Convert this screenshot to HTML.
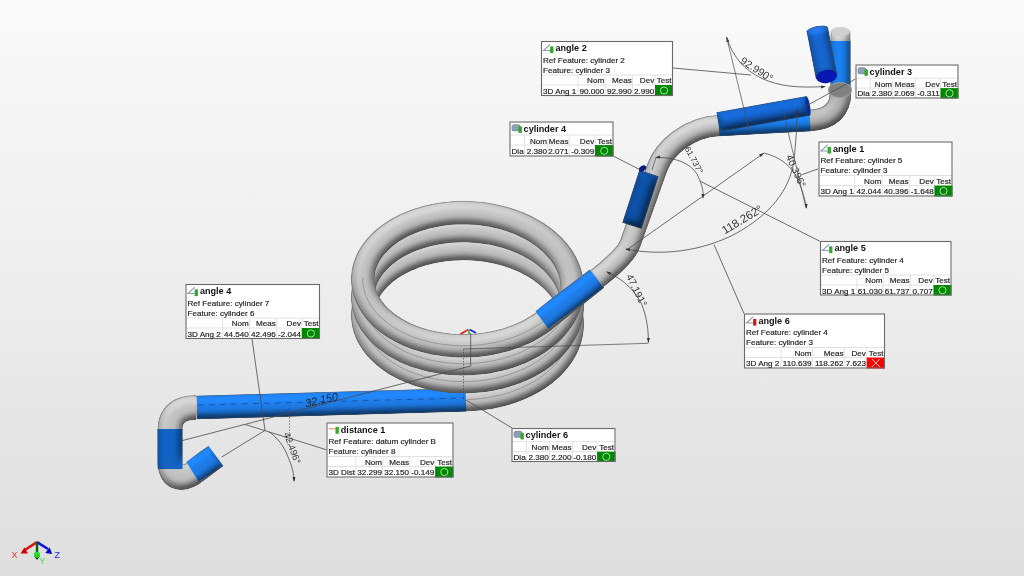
<!DOCTYPE html>
<html><head><meta charset="utf-8">
<style>
html,body{margin:0;padding:0;}
body{width:1024px;height:576px;overflow:hidden;position:relative;
background:linear-gradient(to bottom,#fafafa 0%,#f0f0f0 40%,#dedede 100%);
font-family:"Liberation Sans",sans-serif;}
svg{position:absolute;left:0;top:0;will-change:transform;}
</style></head><body>
<svg width="1024" height="576" viewBox="0 0 1024 576"><defs><filter id="lt" filterUnits="userSpaceOnUse" x="0" y="0" width="1024" height="576" color-interpolation-filters="sRGB">
<feGaussianBlur in="SourceAlpha" stdDeviation="4" result="b"/>
<feDiffuseLighting in="b" surfaceScale="6" diffuseConstant="1" lighting-color="#fff" result="d"><feDistantLight azimuth="-110" elevation="60"/></feDiffuseLighting>
<feComposite in="d" in2="SourceGraphic" operator="arithmetic" k1="0.85" k2="0" k3="0.26" k4="0" result="m"/>
<feMorphology in="SourceAlpha" operator="erode" radius="0.9" result="er"/>
<feComposite in="SourceAlpha" in2="er" operator="out" result="edge"/>
<feFlood flood-color="#505050" flood-opacity="0.45" result="fc"/>
<feComposite in="fc" in2="edge" operator="in" result="edgec"/>
<feMerge result="mm"><feMergeNode in="m"/><feMergeNode in="edgec"/></feMerge>
<feComposite in="mm" in2="SourceAlpha" operator="in"/>
</filter><mask id="mk1" maskUnits="userSpaceOnUse" x="0" y="0" width="1024" height="576"><path d="M362.8 316.9 L362.8 313.3 L363.1 309.7 L363.6 306.2 L364.5 302.7 L365.6 299.2 L367.1 295.7 L368.8 292.4 L370.7 289.0 L373.0 285.8 L375.4 282.6 L378.2 279.6 L381.2 276.6 L384.4 273.7 L387.8 271.0 L391.5 268.4 L395.4 265.9 L399.5 263.6 L403.7 261.4 L408.2 259.3 L412.8 257.5 L417.5 255.8 L422.4 254.2 L427.4 252.9 L432.5 251.7 L437.7 250.7 L443.0 249.9 L448.4 249.2 L453.8 248.8 L459.3 248.6 L464.8 248.5 L470.2 248.7 L475.7 249.0 L481.2 249.5 L486.6 250.3 L492.0 251.2 L497.3 252.3 L502.5 253.6 L507.6 255.1 L512.6 256.8 L517.5 258.6 L522.2 260.6 L526.8 262.8 L531.3 265.1 L535.5 267.6 L539.6 270.2 L543.5 273.0 L547.2 275.9 L550.6 279.0 L553.8 282.1 L556.8 285.4 L559.6 288.8 L562.0 292.2 L564.3 295.8 L566.2 299.4 L567.9 303.1 L569.4 306.8 L570.5 310.6 L571.4 314.4 L571.9 318.3 L572.2 322.1 L572.2 326.0" fill="none" stroke="#fff" stroke-width="25.5" stroke-linecap="butt" stroke-linejoin="round"/></mask><mask id="mk2" maskUnits="userSpaceOnUse" x="0" y="0" width="1024" height="576"><path d="M362.8 298.9 L362.8 295.3 L363.1 291.8 L363.6 288.2 L364.5 284.7 L365.6 281.2 L367.1 277.8 L368.8 274.4 L370.7 271.1 L373.0 267.8 L375.4 264.7 L378.2 261.6 L381.2 258.6 L384.4 255.8 L387.8 253.0 L391.5 250.4 L395.4 247.9 L399.5 245.6 L403.7 243.4 L408.2 241.4 L412.8 239.5 L417.5 237.8 L422.4 236.3 L427.4 234.9 L432.5 233.7 L437.7 232.7 L443.0 231.9 L448.4 231.3 L453.8 230.9 L459.3 230.6 L464.8 230.6 L470.2 230.7 L475.7 231.1 L481.2 231.6 L486.6 232.3 L492.0 233.3 L497.3 234.4 L502.5 235.7 L507.6 237.1 L512.6 238.8 L517.5 240.6 L522.2 242.7 L526.8 244.8 L531.3 247.2 L535.5 249.6 L539.6 252.3 L543.5 255.1 L547.2 258.0 L550.6 261.0 L553.8 264.2 L556.8 267.4 L559.6 270.8 L562.0 274.3 L564.3 277.8 L566.2 281.4 L567.9 285.1 L569.4 288.9 L570.5 292.6 L571.4 296.5 L571.9 300.3 L572.2 304.2 L572.2 308.0" fill="none" stroke="#fff" stroke-width="25.5" stroke-linecap="butt" stroke-linejoin="round"/></mask><mask id="mk3" maskUnits="userSpaceOnUse" x="0" y="0" width="1024" height="576"><path d="M362.8 281.0 L362.8 277.4 L363.1 273.8 L363.6 270.3 L364.5 266.8 L365.6 263.3 L367.1 259.8 L368.8 256.5 L370.7 253.1 L373.0 249.9 L375.4 246.7 L378.2 243.7 L381.2 240.7 L384.4 237.8 L387.8 235.1 L391.5 232.5 L395.4 230.0 L399.5 227.7 L403.7 225.5 L408.2 223.4 L412.8 221.6 L417.5 219.9 L422.4 218.3 L427.4 217.0 L432.5 215.8 L437.7 214.8 L443.0 214.0 L448.4 213.3 L453.8 212.9 L459.3 212.7 L464.8 212.6 L470.2 212.8 L475.7 213.1 L481.2 213.6 L486.6 214.4 L492.0 215.3 L497.3 216.4 L502.5 217.7 L507.6 219.2 L512.6 220.9 L517.5 222.7 L522.2 224.7 L526.8 226.9 L531.3 229.2 L535.5 231.7 L539.6 234.3 L543.5 237.1 L547.2 240.0 L550.6 243.1 L553.8 246.2 L556.8 249.5 L559.6 252.9 L562.0 256.3 L564.3 259.9 L566.2 263.5 L567.9 267.2 L569.4 270.9 L570.5 274.7 L571.4 278.5 L571.9 282.4 L572.2 286.2 L572.2 290.1" fill="none" stroke="#fff" stroke-width="25.5" stroke-linecap="butt" stroke-linejoin="round"/></mask><mask id="mk4" maskUnits="userSpaceOnUse" x="0" y="0" width="1024" height="576"><path d="M572.2 322.1 L572.2 326.1 L571.9 330.0 L571.3 333.9 L570.4 337.8 L569.2 341.6 L567.8 345.4 L566.0 349.2 L564.0 352.8 L561.7 356.4 L559.1 359.9 L556.3 363.3 L553.2 366.6 L549.9 369.8 L546.3 372.9 L542.5 375.8 L538.5 378.6 L534.3 381.2 L530.0 383.7 L525.4 386.0 L520.7 388.2 L515.8 390.2 L510.8 392.0 L505.6 393.6 L500.4 395.0 L495.1 396.3 L489.6 397.3 L484.2 398.2 L478.6 398.8 L473.1 399.3 L467.5 399.5 L465.5 399.6 L196 407.5" fill="none" stroke="#fff" stroke-width="24.5" stroke-linecap="butt" stroke-linejoin="round"/><path d="M196 407.5 C180 407.5 170 414 170 430 L170 462 C170 480 184 481 196 471 L216 456" fill="none" stroke="#fff" stroke-width="26" stroke-linecap="butt" stroke-linejoin="round"/></mask><mask id="mk5" maskUnits="userSpaceOnUse" x="0" y="0" width="1024" height="576"><path d="M572.2 304.2 L572.2 308.0 L571.9 311.9 L571.4 315.7 L570.5 319.6 L569.4 323.4 L567.9 327.1 L566.2 330.8 L564.3 334.4 L562.0 337.9 L559.6 341.4 L556.8 344.8 L553.8 348.0 L550.6 351.2 L547.2 354.2 L543.5 357.1 L539.6 359.9 L535.5 362.6 L531.3 365.1 L526.8 367.4 L522.2 369.6 L517.5 371.6 L512.6 373.4 L507.6 375.1 L502.5 376.5 L497.3 377.8 L492.0 379.0 L486.6 379.9 L481.2 380.6 L475.7 381.1 L470.2 381.5 L464.8 381.6 L459.3 381.6 L453.8 381.4 L448.4 380.9 L443.0 380.3 L437.7 379.5 L432.5 378.5 L427.4 377.3 L422.4 375.9 L417.5 374.4 L412.8 372.7 L408.2 370.8 L403.7 368.8 L399.5 366.6 L395.4 364.3 L391.5 361.8 L387.8 359.2 L384.4 356.4 L381.2 353.6 L378.2 350.6 L375.4 347.5 L373.0 344.4 L370.7 341.1 L368.8 337.8 L367.1 334.4 L365.6 331.0 L364.5 327.5 L363.6 324.0 L363.1 320.4 L362.8 316.9 L362.8 313.3" fill="none" stroke="#fff" stroke-width="25.5" stroke-linecap="butt" stroke-linejoin="round"/></mask><mask id="mk6" maskUnits="userSpaceOnUse" x="0" y="0" width="1024" height="576"><path d="M572.2 286.2 L572.2 290.1 L571.9 294.0 L571.4 297.8 L570.5 301.6 L569.4 305.4 L567.9 309.1 L566.2 312.8 L564.3 316.4 L562.0 320.0 L559.6 323.5 L556.8 326.8 L553.8 330.1 L550.6 333.2 L547.2 336.3 L543.5 339.2 L539.6 342.0 L535.5 344.6 L531.3 347.1 L526.8 349.4 L522.2 351.6 L517.5 353.6 L512.6 355.5 L507.6 357.1 L502.5 358.6 L497.3 359.9 L492.0 361.0 L486.6 361.9 L481.2 362.7 L475.7 363.2 L470.2 363.5 L464.8 363.7 L459.3 363.6 L453.8 363.4 L448.4 363.0 L443.0 362.4 L437.7 361.5 L432.5 360.5 L427.4 359.4 L422.4 358.0 L417.5 356.5 L412.8 354.8 L408.2 352.9 L403.7 350.8 L399.5 348.7 L395.4 346.3 L391.5 343.8 L387.8 341.2 L384.4 338.5 L381.2 335.6 L378.2 332.7 L375.4 329.6 L373.0 326.4 L370.7 323.2 L368.8 319.9 L367.1 316.5 L365.6 313.0 L364.5 309.5 L363.6 306.0 L363.1 302.5 L362.8 298.9 L362.8 295.3" fill="none" stroke="#fff" stroke-width="25.5" stroke-linecap="butt" stroke-linejoin="round"/></mask><mask id="mk7" maskUnits="userSpaceOnUse" x="0" y="0" width="1024" height="576"><path d="M362.8 277.4 L362.8 281.0 L363.1 284.6 L363.7 288.1 L364.5 291.6 L365.7 295.1 L367.1 298.6 L368.8 302.0 L370.8 305.3 L373.0 308.6 L375.5 311.7 L378.3 314.8 L381.3 317.8 L384.6 320.7 L388.0 323.4 L391.7 326.0 L395.6 328.5 L399.7 330.8 L404.0 333.0 L408.5 335.1 L413.1 336.9 L417.9 338.6 L422.8 340.2 L427.8 341.5 L433.0 342.7 L438.2 343.7 L443.5 344.5 L448.9 345.1 L454.4 345.5 L459.8 345.7 L465.3 345.7 L470.8 345.6 L476.3 345.2 L481.8 344.6 L487.2 343.9 L492.6 342.9 L497.9 341.8 L503.1 340.5 L508.3 339.0 L513.3 337.3 L518.2 335.4 L522.9 333.4 L527.5 331.1 L531.9 328.8 L536.2 326.3 L540.2 323.6 L544.1 320.8 L547.7 317.8 L597 278.5" fill="none" stroke="#fff" stroke-width="25.5" stroke-linecap="butt" stroke-linejoin="round"/><path d="M597 278.5 C612 267 626.8 253 630 244 L657 168 C664.4 147.3 688.8 127.1 718.8 125.5 L810 120.5 C830 119.5 840.5 110 840.5 92" fill="none" stroke="#fff" stroke-width="22.5" stroke-linecap="butt" stroke-linejoin="round"/><path d="M840.5 95 L840.5 31" fill="none" stroke="#fff" stroke-width="21" stroke-linecap="butt" stroke-linejoin="round"/></mask></defs>
<g mask="url(#mk1)"><g filter="url(#lt)">
<path d="M375.0 347.0 L372.5 343.8 L370.3 340.5 L368.4 337.2 L366.8 333.7 L365.4 330.3 L364.3 326.7 L363.5 323.2 L363.0 319.6 L362.8 316.0 L362.8 312.4 L363.2 308.8 L363.8 305.2 L364.8 301.7 L366.0 298.2 L367.5 294.7 L369.3 291.3 L371.4 288.0 L373.7 284.8 L376.3 281.6 L379.2 278.5 L382.3 275.6 L385.6 272.7 L389.2 270.0 L392.9 267.4 L396.9 265.0 L401.1 262.7 L405.5 260.5 L410.0 258.6 L414.7 256.7 L419.6 255.1 L424.6 253.6 L429.7 252.3 L434.9 251.2 L440.2 250.3 L445.5 249.5 L451.0 249.0 L456.5 248.7 L462.0 248.5 L467.5 248.6 L473.0 248.8 L478.5 249.3 L484.0 249.9 L489.5 250.7 L494.8 251.8 L500.1 253.0 L505.3 254.4 L510.4 256.0 L515.4 257.8 L520.3 259.7 L525.0 261.9 L529.5 264.2 L533.9 266.6 L538.1 269.2 L542.1 272.0 L545.8 274.9 L549.4 277.9 L552.7 281.0 L555.8 284.3 L558.7 287.6 L561.3 291.1 L563.6 294.6 L565.7 298.3 L567.5 302.0 L569.0 305.7 L570.2 309.5 L571.2 313.4 L571.8 317.3 L572.2 321.1 L572.2 325.0 L572.0 328.9 L571.5 332.8 L570.7 336.7 L569.6 340.5 L568.2 344.3 L566.6 348.0 L564.7 351.7 L562.5 355.3 L560.0 358.8" fill="none" stroke="#c2c2c2" stroke-width="23.5" stroke-linecap="butt" stroke-linejoin="round"/>
</g></g>
<g mask="url(#mk2)"><g filter="url(#lt)">
<path d="M375.0 329.1 L372.5 325.9 L370.3 322.6 L368.4 319.2 L366.8 315.8 L365.4 312.3 L364.3 308.8 L363.5 305.2 L363.0 301.6 L362.8 298.0 L362.8 294.4 L363.2 290.9 L363.8 287.3 L364.8 283.7 L366.0 280.2 L367.5 276.8 L369.3 273.4 L371.4 270.1 L373.7 266.8 L376.3 263.7 L379.2 260.6 L382.3 257.6 L385.6 254.8 L389.2 252.1 L392.9 249.5 L396.9 247.0 L401.1 244.7 L405.5 242.6 L410.0 240.6 L414.7 238.8 L419.6 237.1 L424.6 235.7 L429.7 234.4 L434.9 233.2 L440.2 232.3 L445.5 231.6 L451.0 231.1 L456.5 230.7 L462.0 230.6 L467.5 230.6 L473.0 230.9 L478.5 231.3 L484.0 232.0 L489.5 232.8 L494.8 233.8 L500.1 235.1 L505.3 236.5 L510.4 238.1 L515.4 239.8 L520.3 241.8 L525.0 243.9 L529.5 246.2 L533.9 248.7 L538.1 251.3 L542.1 254.0 L545.8 256.9 L549.4 259.9 L552.7 263.1 L555.8 266.3 L558.7 269.7 L561.3 273.1 L563.6 276.7 L565.7 280.3 L567.5 284.0 L569.0 287.8 L570.2 291.6 L571.2 295.4 L571.8 299.3 L572.2 303.2 L572.2 307.1 L572.0 311.0 L571.5 314.9 L570.7 318.7 L569.6 322.6 L568.2 326.3 L566.6 330.1 L564.7 333.7 L562.5 337.3 L560.0 340.8" fill="none" stroke="#c2c2c2" stroke-width="23.5" stroke-linecap="butt" stroke-linejoin="round"/>
</g></g>
<g mask="url(#mk3)"><g filter="url(#lt)">
<path d="M375.0 311.1 L372.5 307.9 L370.3 304.6 L368.4 301.3 L366.8 297.8 L365.4 294.4 L364.3 290.8 L363.5 287.3 L363.0 283.7 L362.8 280.1 L362.8 276.5 L363.2 272.9 L363.8 269.3 L364.8 265.8 L366.0 262.3 L367.5 258.8 L369.3 255.4 L371.4 252.1 L373.7 248.9 L376.3 245.7 L379.2 242.6 L382.3 239.7 L385.6 236.8 L389.2 234.1 L392.9 231.5 L396.9 229.1 L401.1 226.8 L405.5 224.6 L410.0 222.7 L414.7 220.8 L419.6 219.2 L424.6 217.7 L429.7 216.4 L434.9 215.3 L440.2 214.4 L445.5 213.6 L451.0 213.1 L456.5 212.8 L462.0 212.6 L467.5 212.7 L473.0 212.9 L478.5 213.4 L484.0 214.0 L489.5 214.8 L494.8 215.9 L500.1 217.1 L505.3 218.5 L510.4 220.1 L515.4 221.9 L520.3 223.8 L525.0 226.0 L529.5 228.3 L533.9 230.7 L538.1 233.3 L542.1 236.1 L545.8 239.0 L549.4 242.0 L552.7 245.1 L555.8 248.4 L558.7 251.7 L561.3 255.2 L563.6 258.7 L565.7 262.4 L567.5 266.1 L569.0 269.8 L570.2 273.6 L571.2 277.5 L571.8 281.4 L572.2 285.2 L572.2 289.1 L572.0 293.0 L571.5 296.9 L570.7 300.8 L569.6 304.6 L568.2 308.4 L566.6 312.1 L564.7 315.8 L562.5 319.4 L560.0 322.9" fill="none" stroke="#c2c2c2" stroke-width="23.5" stroke-linecap="butt" stroke-linejoin="round"/>
</g></g>
<g mask="url(#mk4)"><g filter="url(#lt)">
<path d="M560.0 289.3 L562.5 292.8 L564.7 296.4 L566.6 300.1 L568.2 303.8 L569.6 307.6 L570.7 311.4 L571.5 315.3 L572.0 319.2 L572.2 323.1 L572.2 327.0 L571.8 330.9 L571.2 334.7 L570.2 338.6 L569.0 342.4 L567.5 346.1 L565.7 349.8 L563.6 353.5 L561.3 357.0 L558.7 360.5 L555.8 363.8 L552.7 367.1 L549.4 370.2 L545.8 373.3 L542.1 376.1 L538.1 378.9 L533.9 381.5 L529.5 383.9 L525.0 386.2 L520.3 388.4 L515.4 390.3 L510.4 392.1 L505.3 393.7 L500.1 395.1 L494.8 396.3 L489.5 397.4 L484.0 398.2 L478.5 398.8 L473.0 399.3 L467.5 399.5 L465.5 399.6 L196 407.5" fill="none" stroke="#c2c2c2" stroke-width="23.5" stroke-linecap="butt" stroke-linejoin="round"/><path d="M196 407.5 C180 407.5 170 414 170 430 L170 462 C170 480 184 481 196 471 L216 456" fill="none" stroke="#c2c2c2" stroke-width="25" stroke-linecap="butt" stroke-linejoin="round"/><path d="M466 400.1 L197 407.5" fill="none" stroke="#1e7ce8" stroke-width="23.5" stroke-linecap="butt" stroke-linejoin="round"/><path d="M170 469 L170 429" fill="none" stroke="#1262c4" stroke-width="25" stroke-linecap="butt" stroke-linejoin="round"/><path d="M217.5 455 L192 471" fill="none" stroke="#1e7ce8" stroke-width="25" stroke-linecap="butt" stroke-linejoin="round"/>
</g><path d="M560.0 289.3 L562.5 292.8 L564.7 296.4 L566.6 300.1 L568.2 303.8 L569.6 307.6 L570.7 311.4 L571.5 315.3 L572.0 319.2 L572.2 323.1 L572.2 327.0 L571.8 330.9 L571.2 334.7 L570.2 338.6 L569.0 342.4 L567.5 346.1 L565.7 349.8 L563.6 353.5 L561.3 357.0 L558.7 360.5 L555.8 363.8 L552.7 367.1 L549.4 370.2 L545.8 373.3 L542.1 376.1 L538.1 378.9 L533.9 381.5 L529.5 383.9 L525.0 386.2 L520.3 388.4 L515.4 390.3 L510.4 392.1 L505.3 393.7 L500.1 395.1 L494.8 396.3 L489.5 397.4 L484.0 398.2 L478.5 398.8 L473.0 399.3 L467.5 399.5" fill="none" stroke="#555" stroke-width="0.7" stroke-opacity="0.55"/></g>
<g mask="url(#mk5)"><g filter="url(#lt)">
<path d="M560.0 271.4 L562.5 274.9 L564.7 278.5 L566.6 282.1 L568.2 285.9 L569.6 289.6 L570.7 293.5 L571.5 297.3 L572.0 301.2 L572.2 305.1 L572.2 309.0 L571.8 312.9 L571.2 316.8 L570.2 320.6 L569.0 324.4 L567.5 328.2 L565.7 331.9 L563.6 335.5 L561.3 339.1 L558.7 342.5 L555.8 345.9 L552.7 349.1 L549.4 352.3 L545.8 355.3 L542.1 358.2 L538.1 360.9 L533.9 363.5 L529.5 366.0 L525.0 368.3 L520.3 370.4 L515.4 372.4 L510.4 374.1 L505.3 375.7 L500.1 377.2 L494.8 378.4 L489.5 379.4 L484.0 380.3 L478.5 380.9 L473.0 381.3 L467.5 381.6 L462.0 381.6 L456.5 381.5 L451.0 381.2 L445.5 380.6 L440.2 379.9 L434.9 379.0 L429.7 377.9 L424.6 376.6 L419.6 375.1 L414.7 373.4 L410.0 371.6 L405.5 369.6 L401.1 367.5 L396.9 365.2 L392.9 362.7 L389.2 360.1 L385.6 357.4 L382.3 354.6 L379.2 351.6 L376.3 348.6 L373.7 345.4 L371.4 342.2 L369.3 338.8 L367.5 335.4 L366.0 332.0 L364.8 328.5 L363.8 324.9 L363.2 321.4 L362.8 317.8 L362.8 314.2 L363.0 310.6 L363.5 307.0 L364.3 303.4 L365.4 299.9 L366.8 296.4 L368.4 293.0 L370.3 289.6 L372.5 286.3 L375.0 283.1" fill="none" stroke="#c2c2c2" stroke-width="23.5" stroke-linecap="butt" stroke-linejoin="round"/>
</g><path d="M560.0 271.4 L562.5 274.9 L564.7 278.5 L566.6 282.1 L568.2 285.9 L569.6 289.6 L570.7 293.5 L571.5 297.3 L572.0 301.2 L572.2 305.1 L572.2 309.0 L571.8 312.9 L571.2 316.8 L570.2 320.6 L569.0 324.4 L567.5 328.2 L565.7 331.9 L563.6 335.5 L561.3 339.1 L558.7 342.5 L555.8 345.9 L552.7 349.1 L549.4 352.3 L545.8 355.3 L542.1 358.2 L538.1 360.9 L533.9 363.5 L529.5 366.0 L525.0 368.3 L520.3 370.4 L515.4 372.4 L510.4 374.1 L505.3 375.7 L500.1 377.2 L494.8 378.4 L489.5 379.4 L484.0 380.3 L478.5 380.9 L473.0 381.3 L467.5 381.6 L462.0 381.6 L456.5 381.5 L451.0 381.2 L445.5 380.6 L440.2 379.9 L434.9 379.0 L429.7 377.9 L424.6 376.6 L419.6 375.1 L414.7 373.4 L410.0 371.6 L405.5 369.6 L401.1 367.5 L396.9 365.2 L392.9 362.7 L389.2 360.1 L385.6 357.4 L382.3 354.6 L379.2 351.6 L376.3 348.6 L373.7 345.4 L371.4 342.2 L369.3 338.8 L367.5 335.4 L366.0 332.0 L364.8 328.5 L363.8 324.9 L363.2 321.4 L362.8 317.8 L362.8 314.2 L363.0 310.6 L363.5 307.0 L364.3 303.4 L365.4 299.9 L366.8 296.4 L368.4 293.0 L370.3 289.6 L372.5 286.3 L375.0 283.1" fill="none" stroke="#555" stroke-width="0.7" stroke-opacity="0.55"/></g>
<g mask="url(#mk6)"><g filter="url(#lt)">
<path d="M560.0 253.4 L562.5 256.9 L564.7 260.5 L566.6 264.2 L568.2 267.9 L569.6 271.7 L570.7 275.5 L571.5 279.4 L572.0 283.3 L572.2 287.2 L572.2 291.1 L571.8 295.0 L571.2 298.8 L570.2 302.7 L569.0 306.5 L567.5 310.2 L565.7 313.9 L563.6 317.6 L561.3 321.1 L558.7 324.6 L555.8 327.9 L552.7 331.2 L549.4 334.3 L545.8 337.4 L542.1 340.2 L538.1 343.0 L533.9 345.6 L529.5 348.0 L525.0 350.3 L520.3 352.5 L515.4 354.4 L510.4 356.2 L505.3 357.8 L500.1 359.2 L494.8 360.4 L489.5 361.5 L484.0 362.3 L478.5 362.9 L473.0 363.4 L467.5 363.6 L462.0 363.7 L456.5 363.5 L451.0 363.2 L445.5 362.7 L440.2 361.9 L434.9 361.0 L429.7 359.9 L424.6 358.6 L419.6 357.1 L414.7 355.5 L410.0 353.7 L405.5 351.7 L401.1 349.5 L396.9 347.2 L392.9 344.8 L389.2 342.2 L385.6 339.5 L382.3 336.6 L379.2 333.7 L376.3 330.6 L373.7 327.4 L371.4 324.2 L369.3 320.9 L367.5 317.5 L366.0 314.0 L364.8 310.5 L363.8 307.0 L363.2 303.4 L362.8 299.8 L362.8 296.2 L363.0 292.6 L363.5 289.0 L364.3 285.5 L365.4 282.0 L366.8 278.5 L368.4 275.0 L370.3 271.7 L372.5 268.4 L375.0 265.2" fill="none" stroke="#c2c2c2" stroke-width="23.5" stroke-linecap="butt" stroke-linejoin="round"/>
</g><path d="M560.0 253.4 L562.5 256.9 L564.7 260.5 L566.6 264.2 L568.2 267.9 L569.6 271.7 L570.7 275.5 L571.5 279.4 L572.0 283.3 L572.2 287.2 L572.2 291.1 L571.8 295.0 L571.2 298.8 L570.2 302.7 L569.0 306.5 L567.5 310.2 L565.7 313.9 L563.6 317.6 L561.3 321.1 L558.7 324.6 L555.8 327.9 L552.7 331.2 L549.4 334.3 L545.8 337.4 L542.1 340.2 L538.1 343.0 L533.9 345.6 L529.5 348.0 L525.0 350.3 L520.3 352.5 L515.4 354.4 L510.4 356.2 L505.3 357.8 L500.1 359.2 L494.8 360.4 L489.5 361.5 L484.0 362.3 L478.5 362.9 L473.0 363.4 L467.5 363.6 L462.0 363.7 L456.5 363.5 L451.0 363.2 L445.5 362.7 L440.2 361.9 L434.9 361.0 L429.7 359.9 L424.6 358.6 L419.6 357.1 L414.7 355.5 L410.0 353.7 L405.5 351.7 L401.1 349.5 L396.9 347.2 L392.9 344.8 L389.2 342.2 L385.6 339.5 L382.3 336.6 L379.2 333.7 L376.3 330.6 L373.7 327.4 L371.4 324.2 L369.3 320.9 L367.5 317.5 L366.0 314.0 L364.8 310.5 L363.8 307.0 L363.2 303.4 L362.8 299.8 L362.8 296.2 L363.0 292.6 L363.5 289.0 L364.3 285.5 L365.4 282.0 L366.8 278.5 L368.4 275.0 L370.3 271.7 L372.5 268.4 L375.0 265.2" fill="none" stroke="#555" stroke-width="0.7" stroke-opacity="0.55"/></g>
<g mask="url(#mk7)"><g filter="url(#lt)">
<path d="M375.0 247.2 L372.6 250.4 L370.4 253.7 L368.5 257.0 L366.8 260.4 L365.4 263.9 L364.3 267.4 L363.5 270.9 L363.0 274.4 L362.8 278.0 L362.8 281.6 L363.1 285.1 L363.8 288.7 L364.7 292.2 L365.9 295.7 L367.3 299.1 L369.1 302.5 L371.1 305.8 L373.4 309.0 L375.9 312.2 L378.7 315.2 L381.7 318.2 L385.0 321.0 L388.4 323.7 L392.1 326.3 L396.1 328.8 L400.2 331.1 L404.5 333.2 L408.9 335.3 L413.5 337.1 L418.3 338.8 L423.2 340.3 L428.3 341.6 L433.4 342.8 L438.6 343.7 L443.9 344.5 L449.3 345.1 L454.7 345.5 L460.2 345.7 L465.7 345.7 L471.2 345.6 L476.6 345.2 L482.1 344.6 L487.5 343.8 L492.8 342.9 L498.1 341.7 L503.3 340.4 L508.4 338.9 L513.4 337.2 L518.3 335.3 L523.0 333.3 L527.6 331.1 L532.0 328.7 L536.2 326.2 L540.3 323.6 L544.1 320.8 L547.7 317.8 L597 278.5" fill="none" stroke="#c2c2c2" stroke-width="23.5" stroke-linecap="butt" stroke-linejoin="round"/><path d="M597 278.5 C612 267 626.8 253 630 244 L657 168 C664.4 147.3 688.8 127.1 718.8 125.5 L810 120.5 C830 119.5 840.5 110 840.5 92" fill="none" stroke="#c2c2c2" stroke-width="21.5" stroke-linecap="butt" stroke-linejoin="round"/><path d="M541.5 319.5 L597 278.5" fill="none" stroke="#1e7ce8" stroke-width="22.5" stroke-linecap="butt" stroke-linejoin="round"/><path d="M808 120.6 C830 119.5 840.5 110 840.5 92 L840.5 86" fill="none" stroke="#b2b2b2" stroke-width="21.5" stroke-linecap="butt" stroke-linejoin="round"/><path d="M718.8 125.5 L810 120.5" fill="none" stroke="#1a80f0" stroke-width="21.5" stroke-linecap="butt" stroke-linejoin="round"/><path d="M840.5 95 L840.5 31" fill="none" stroke="#c2c2c2" stroke-width="20" stroke-linecap="butt" stroke-linejoin="round"/><path d="M840.5 88 L840.5 41" fill="none" stroke="#1a80f0" stroke-width="20" stroke-linecap="butt" stroke-linejoin="round"/>
</g><path d="M375.0 247.2 L372.6 250.4 L370.4 253.7 L368.5 257.0 L366.8 260.4 L365.4 263.9 L364.3 267.4 L363.5 270.9 L363.0 274.4 L362.8 278.0 L362.8 281.6 L363.1 285.1 L363.8 288.7 L364.7 292.2 L365.9 295.7 L367.3 299.1 L369.1 302.5 L371.1 305.8 L373.4 309.0 L375.9 312.2 L378.7 315.2 L381.7 318.2 L385.0 321.0 L388.4 323.7 L392.1 326.3 L396.1 328.8 L400.2 331.1 L404.5 333.2 L408.9 335.3 L413.5 337.1 L418.3 338.8 L423.2 340.3 L428.3 341.6 L433.4 342.8 L438.6 343.7 L443.9 344.5 L449.3 345.1 L454.7 345.5 L460.2 345.7 L465.7 345.7 L471.2 345.6 L476.6 345.2 L482.1 344.6 L487.5 343.8 L492.8 342.9 L498.1 341.7 L503.3 340.4 L508.4 338.9 L513.4 337.2 L518.3 335.3 L523.0 333.3 L527.6 331.1 L532.0 328.7 L536.2 326.2 L540.3 323.6 L544.1 320.8 L547.7 317.8 L541.5 319.5" fill="none" stroke="#555" stroke-width="0.7" stroke-opacity="0.55"/></g>
<g filter="url(#lt)">
<path d="M631.9 225.8 L649 173" fill="none" stroke="#0c4fa2" stroke-width="20.5" stroke-linecap="butt" stroke-linejoin="round"/>
</g>
<ellipse cx="642.5" cy="168.5" rx="4" ry="2.6" fill="#0a1a80" transform="rotate(-35 642.5 168.5)"/>
<g filter="url(#lt)">
<path d="M718 122 L808 105.8" fill="none" stroke="#1462c8" stroke-width="20" stroke-linecap="butt" stroke-linejoin="round"/>
</g>
<ellipse cx="808" cy="106" rx="2" ry="10" fill="#0a2a9a" transform="rotate(-10 808 106)"/>
<ellipse cx="840" cy="90" rx="12" ry="8" fill="#9a9a9a"/>
<ellipse cx="840" cy="90" rx="11" ry="7" fill="#808080"/>
<ellipse cx="840.5" cy="31.5" rx="9.5" ry="4.5" fill="#d0d0d0"/>
<g filter="url(#lt)">
<path d="M817.2 29 L826.7 77.5" fill="none" stroke="#1666d0" stroke-width="22" stroke-linecap="butt" stroke-linejoin="round"/>
<ellipse cx="817.3" cy="30" rx="11" ry="4" fill="#1f6fd8" transform="rotate(-12 817.3 30)"/>
</g>
<ellipse cx="826.7" cy="76.5" rx="10.5" ry="6.5" fill="#0a16b0" transform="rotate(-10 826.7 76.5)"/>
<path d="M673 68 L751 75" fill="none" stroke="#4a4a4a" stroke-width="0.8"/>
<path d="M726.6 37 C733 58 745 70 761 78 C780 87 800 88 824.7 86.5" fill="none" stroke="#4a4a4a" stroke-width="0.8"/>
<path d="M726.6 37.0 L729.4 41.4 L726.5 42.2 Z" fill="#333"/>
<path d="M826.0 86.5 L821.1 88.4 L820.9 85.4 Z" fill="#333"/>
<path d="M726.6 37 L749 130" fill="none" stroke="#4a4a4a" stroke-width="0.7"/>
<text x="757" y="69" font-family="Liberation Sans, sans-serif" font-size="10.5" fill="#333" text-anchor="middle" dominant-baseline="central" transform="rotate(33 757 69)">92.990°</text>
<path d="M855.5 79 L806 106" fill="none" stroke="#4a4a4a" stroke-width="0.8"/>
<path d="M612.5 155.6 L640.5 170" fill="none" stroke="#4a4a4a" stroke-width="0.8"/>
<path d="M700.3 181.3 L819.8 241.2" fill="none" stroke="#4a4a4a" stroke-width="0.8"/>
<path d="M656 157.5 C675 157 690 163 697 174 C701 182 703 188 703.5 197" fill="none" stroke="#4a4a4a" stroke-width="0.8"/>
<path d="M655.0 157.5 L659.9 155.6 L660.1 158.6 Z" fill="#333"/>
<path d="M703.0 199.0 L701.5 194.0 L704.5 194.0 Z" fill="#333"/>
<path d="M656 157.5 L652 170" fill="none" stroke="#4a4a4a" stroke-width="0.7"/>
<text x="694" y="160" font-family="Liberation Sans, sans-serif" font-size="8.5" fill="#333" text-anchor="middle" dominant-baseline="central" transform="rotate(62 694 160)">61.737°</text>
<path d="M626 249 C660 256 700 252 735 234 C770 215 790 190 794 160 C796 140 797 125 797 110" fill="none" stroke="#4a4a4a" stroke-width="0.8"/>
<path d="M625.0 249.0 L630.2 248.3 L629.7 251.3 Z" fill="#333"/>
<path d="M797.0 109.0 L798.5 114.0 L795.5 114.0 Z" fill="#333"/>
<path d="M628 249 L764 153" fill="none" stroke="#4a4a4a" stroke-width="0.8"/>
<path d="M764.0 153.0 L760.8 157.1 L759.0 154.6 Z" fill="#333"/>
<text x="742" y="219.5" font-family="Liberation Sans, sans-serif" font-size="11.5" fill="#333" text-anchor="middle" dominant-baseline="central" transform="rotate(-31 742 219.5)">118.262°</text>
<path d="M764 153 C780 157 792 166 798 180 C803 192 805 200 806.5 208" fill="none" stroke="#4a4a4a" stroke-width="0.8"/>
<path d="M806.5 209.0 L804.6 204.1 L807.6 203.9 Z" fill="#333"/>
<path d="M783 110 L806 208" fill="none" stroke="#4a4a4a" stroke-width="0.7"/>
<text x="796" y="171" font-family="Liberation Sans, sans-serif" font-size="10" fill="#333" text-anchor="middle" dominant-baseline="central" transform="rotate(66 796 171)">40.396°</text>
<path d="M801.7 174.7 L818.7 168.7" fill="none" stroke="#4a4a4a" stroke-width="0.8"/>
<path d="M714 244.7 L744 313.5" fill="none" stroke="#4a4a4a" stroke-width="0.8"/>
<path d="M607 272 C625 280 636 292 642 305 C647 318 648.4 330 648.4 342.5" fill="none" stroke="#4a4a4a" stroke-width="0.8"/>
<path d="M606.0 271.5 L611.1 272.4 L609.8 275.1 Z" fill="#333"/>
<path d="M648.4 343.0 L646.9 338.0 L649.9 338.0 Z" fill="#333"/>
<path d="M463.5 349 L648.4 343.3" fill="none" stroke="#4a4a4a" stroke-width="0.7"/>
<text x="636.7" y="290.4" font-family="Liberation Sans, sans-serif" font-size="10" fill="#333" text-anchor="middle" dominant-baseline="central" transform="rotate(64 636.7 290.4)">47.191°</text>
<path d="M470.7 333 L470.7 366" fill="none" stroke="#4a4a4a" stroke-width="0.8"/>
<path d="M463.5 349 L463.5 400" fill="none" stroke="#4a4a4a" stroke-width="0.7" stroke-dasharray="1.5 1.5"/>
<path d="M468.5 329.5 L460.5 334" stroke="#e02020" stroke-width="1.8"/>
<path d="M469.5 329.5 L476 333" stroke="#1030e0" stroke-width="1.8"/>
<path d="M469 330.5 L469 334" stroke="#30b030" stroke-width="1.6"/>
<path d="M252 339 L265 430.4" fill="none" stroke="#4a4a4a" stroke-width="0.8"/>
<path d="M181.8 440.7 L470.7 366" fill="none" stroke="#4a4a4a" stroke-width="0.8"/>
<path d="M245.3 424.5 L326.5 449.8" fill="none" stroke="#4a4a4a" stroke-width="0.8"/>
<path d="M221.7 457 L265 430.4" fill="none" stroke="#4a4a4a" stroke-width="0.8"/>
<path d="M268.9 431.8 C277 437 284 446 288 457 C292 466 294 474 294 481" fill="none" stroke="#4a4a4a" stroke-width="0.8"/>
<path d="M294.0 482.0 L292.5 477.0 L295.5 477.0 Z" fill="#333"/>
<path d="M289.5 405.3 L289.5 446.6" fill="none" stroke="#4a4a4a" stroke-width="0.7" stroke-dasharray="1.5 1.5"/>
<path d="M198 405 L464 398" fill="none" stroke="#1a4a90" stroke-width="0.8" stroke-dasharray="5.5 5.5"/>
<text x="292.5" y="448" font-family="Liberation Sans, sans-serif" font-size="9.5" fill="#333" text-anchor="middle" dominant-baseline="central" transform="rotate(70 292.5 448)">42.496°</text>
<text font-style="italic" x="321.5" y="399.6" font-family="Liberation Sans, sans-serif" font-size="11" fill="#222" text-anchor="middle" dominant-baseline="central" transform="rotate(-12.5 321.5 399.6)">32.150</text>
<path d="M512 428 L466 400" fill="none" stroke="#4a4a4a" stroke-width="0.8"/>
<path d="M37 542.2 L24 550.5" stroke="#e01010" stroke-width="2.6"/><path d="M20.5 553.5 L24.4 547.6 L27.9 553.6 Z" fill="#d00000"/>
<path d="M37 542.2 L48 549" stroke="#1010e0" stroke-width="2.6"/><path d="M52.1 554.1 L45.3 553 L49.6 547.3 Z" fill="#0000c8"/>
<path d="M37 542.2 L37 556" stroke="#006400" stroke-width="2.4"/><path d="M34 556 L40 556 L37 560 Z" fill="#004a00"/><circle cx="37" cy="554.8" r="3" fill="#22dd22"/>
<text x="11.6" y="558" font-family="Liberation Sans, sans-serif" font-size="9" fill="#f03030">X</text>
<text x="54.5" y="558" font-family="Liberation Sans, sans-serif" font-size="9" fill="#2828e8">Z</text>
<text x="39.3" y="564" font-family="Liberation Sans, sans-serif" font-size="9" fill="#40e040">Y</text>
<rect x="541" y="41" width="132" height="55" fill="#fff"/>
<path d="M541 75 H673 M541 85 H655" stroke="#e2e2e2" stroke-width="1" fill="none"/>
<path d="M578 75 V96 M605 75 V96 M632.5 75 V96 M655 75 V96" stroke="#e2e2e2" stroke-width="1" fill="none"/>
<rect x="655" y="85" width="18" height="11" fill="#008800"/>
<circle cx="664.0" cy="90.5" r="3.6" fill="none" stroke="#b8e8b8" stroke-width="0.9"/>
<rect x="541.5" y="41.5" width="131" height="54" fill="none" stroke="#6a6a6a" stroke-width="1.1"/>
<path d="M550.1 44.3 L543.4 50.5 L550.1 50.5" fill="none" stroke="#8a9ab4" stroke-width="1.1"/>
<rect x="550.1" y="46.4" width="3.3" height="6.7" fill="#2fa82f"/>
<text x="555.4" y="51" font-family="Liberation Sans, sans-serif" font-size="9.1" font-weight="bold" fill="#111">angle 2</text>
<text x="543" y="62.8" font-family="Liberation Sans, sans-serif" font-size="8.1" fill="#1e1e1e" stroke="#1e1e1e" stroke-width="0.18">Ref Feature: cylinder 2</text>
<text x="543" y="72.6" font-family="Liberation Sans, sans-serif" font-size="8.1" fill="#1e1e1e" stroke="#1e1e1e" stroke-width="0.18">Feature: cylinder 3</text>
<text x="604.2" y="83.3" font-family="Liberation Sans, sans-serif" font-size="8.1" fill="#1e1e1e" stroke="#1e1e1e" stroke-width="0.18" text-anchor="end">Nom</text>
<text x="631.7" y="83.3" font-family="Liberation Sans, sans-serif" font-size="8.1" fill="#1e1e1e" stroke="#1e1e1e" stroke-width="0.18" text-anchor="end">Meas</text>
<text x="654.2" y="83.3" font-family="Liberation Sans, sans-serif" font-size="8.1" fill="#1e1e1e" stroke="#1e1e1e" stroke-width="0.18" text-anchor="end">Dev</text>
<text x="671.5" y="83.3" font-family="Liberation Sans, sans-serif" font-size="8.1" fill="#1e1e1e" stroke="#1e1e1e" stroke-width="0.18" text-anchor="end">Test</text>
<text x="543" y="93.5" font-family="Liberation Sans, sans-serif" font-size="8.1" fill="#1e1e1e" stroke="#1e1e1e" stroke-width="0.18">3D Ang 1</text>
<text x="604.2" y="93.5" font-family="Liberation Sans, sans-serif" font-size="8.1" fill="#1e1e1e" stroke="#1e1e1e" stroke-width="0.18" text-anchor="end">90.000</text>
<text x="631.7" y="93.5" font-family="Liberation Sans, sans-serif" font-size="8.1" fill="#1e1e1e" stroke="#1e1e1e" stroke-width="0.18" text-anchor="end">92.990</text>
<text x="654.2" y="93.5" font-family="Liberation Sans, sans-serif" font-size="8.1" fill="#1e1e1e" stroke="#1e1e1e" stroke-width="0.18" text-anchor="end">2.990</text>
<rect x="855.5" y="64.5" width="103.0" height="34.0" fill="#fff"/>
<path d="M855.5 78.1 H958.5 M855.5 88.1 H940.5" stroke="#e2e2e2" stroke-width="1" fill="none"/>
<path d="M870.2 78.1 V98.5 M892.7 78.1 V98.5 M915.4 78.1 V98.5 M940.5 78.1 V98.5" stroke="#e2e2e2" stroke-width="1" fill="none"/>
<rect x="940.5" y="88.1" width="18.0" height="10.400000000000006" fill="#008800"/>
<circle cx="949.5" cy="93.3" r="3.6" fill="none" stroke="#b8e8b8" stroke-width="0.9"/>
<rect x="856.0" y="65.0" width="102.0" height="33.0" fill="none" stroke="#6a6a6a" stroke-width="1.1"/>
<rect x="857.6" y="67.2" width="8.8" height="7.1" rx="2.6" fill="#8496b0"/>
<path d="M859.0 69.5 H864.5 M859.0 71.8 H864.5" stroke="#a8b8cc" stroke-width="0.6"/>
<rect x="864.4" y="69.3" width="3.5" height="6.7" rx="1" fill="#3aa82a"/>
<text x="869.6" y="74.7" font-family="Liberation Sans, sans-serif" font-size="9.1" font-weight="bold" fill="#111">cylinder 3</text>
<text x="891.9000000000001" y="86.7" font-family="Liberation Sans, sans-serif" font-size="8.1" fill="#1e1e1e" stroke="#1e1e1e" stroke-width="0.18" text-anchor="end">Nom</text>
<text x="914.6" y="86.7" font-family="Liberation Sans, sans-serif" font-size="8.1" fill="#1e1e1e" stroke="#1e1e1e" stroke-width="0.18" text-anchor="end">Meas</text>
<text x="939.7" y="86.7" font-family="Liberation Sans, sans-serif" font-size="8.1" fill="#1e1e1e" stroke="#1e1e1e" stroke-width="0.18" text-anchor="end">Dev</text>
<text x="957.0" y="86.7" font-family="Liberation Sans, sans-serif" font-size="8.1" fill="#1e1e1e" stroke="#1e1e1e" stroke-width="0.18" text-anchor="end">Test</text>
<text x="857.5" y="96.2" font-family="Liberation Sans, sans-serif" font-size="8.1" fill="#1e1e1e" stroke="#1e1e1e" stroke-width="0.18">Dia</text>
<text x="891.9000000000001" y="96.2" font-family="Liberation Sans, sans-serif" font-size="8.1" fill="#1e1e1e" stroke="#1e1e1e" stroke-width="0.18" text-anchor="end">2.380</text>
<text x="914.6" y="96.2" font-family="Liberation Sans, sans-serif" font-size="8.1" fill="#1e1e1e" stroke="#1e1e1e" stroke-width="0.18" text-anchor="end">2.069</text>
<text x="939.7" y="96.2" font-family="Liberation Sans, sans-serif" font-size="8.1" fill="#1e1e1e" stroke="#1e1e1e" stroke-width="0.18" text-anchor="end">-0.311</text>
<rect x="509.5" y="121.5" width="104.0" height="35.0" fill="#fff"/>
<path d="M509.5 135.1 H613.5 M509.5 145.1 H595" stroke="#e2e2e2" stroke-width="1" fill="none"/>
<path d="M524.6 135.1 V156.5 M547.9 135.1 V156.5 M569.3 135.1 V156.5 M595 135.1 V156.5" stroke="#e2e2e2" stroke-width="1" fill="none"/>
<rect x="595" y="145.1" width="18.5" height="11.400000000000006" fill="#008800"/>
<circle cx="604.25" cy="150.8" r="3.6" fill="none" stroke="#b8e8b8" stroke-width="0.9"/>
<rect x="510.0" y="122.0" width="103.0" height="34.0" fill="none" stroke="#6a6a6a" stroke-width="1.1"/>
<rect x="511.6" y="124.2" width="8.8" height="7.1" rx="2.6" fill="#8496b0"/>
<path d="M513.0 126.5 H518.5 M513.0 128.8 H518.5" stroke="#a8b8cc" stroke-width="0.6"/>
<rect x="518.4" y="126.3" width="3.5" height="6.7" rx="1" fill="#3aa82a"/>
<text x="523.6" y="131.7" font-family="Liberation Sans, sans-serif" font-size="9.1" font-weight="bold" fill="#111">cylinder 4</text>
<text x="547.1" y="143.7" font-family="Liberation Sans, sans-serif" font-size="8.1" fill="#1e1e1e" stroke="#1e1e1e" stroke-width="0.18" text-anchor="end">Nom</text>
<text x="568.5" y="143.7" font-family="Liberation Sans, sans-serif" font-size="8.1" fill="#1e1e1e" stroke="#1e1e1e" stroke-width="0.18" text-anchor="end">Meas</text>
<text x="594.2" y="143.7" font-family="Liberation Sans, sans-serif" font-size="8.1" fill="#1e1e1e" stroke="#1e1e1e" stroke-width="0.18" text-anchor="end">Dev</text>
<text x="612.0" y="143.7" font-family="Liberation Sans, sans-serif" font-size="8.1" fill="#1e1e1e" stroke="#1e1e1e" stroke-width="0.18" text-anchor="end">Test</text>
<text x="511.5" y="154.2" font-family="Liberation Sans, sans-serif" font-size="8.1" fill="#1e1e1e" stroke="#1e1e1e" stroke-width="0.18">Dia</text>
<text x="547.1" y="154.2" font-family="Liberation Sans, sans-serif" font-size="8.1" fill="#1e1e1e" stroke="#1e1e1e" stroke-width="0.18" text-anchor="end">2.380</text>
<text x="568.5" y="154.2" font-family="Liberation Sans, sans-serif" font-size="8.1" fill="#1e1e1e" stroke="#1e1e1e" stroke-width="0.18" text-anchor="end">2.071</text>
<text x="594.2" y="154.2" font-family="Liberation Sans, sans-serif" font-size="8.1" fill="#1e1e1e" stroke="#1e1e1e" stroke-width="0.18" text-anchor="end">-0.309</text>
<rect x="818.5" y="141.5" width="134.0" height="55.0" fill="#fff"/>
<path d="M818.5 175.5 H952.5 M818.5 185.5 H934.5" stroke="#e2e2e2" stroke-width="1" fill="none"/>
<path d="M854.7 175.5 V196.5 M882 175.5 V196.5 M909.3 175.5 V196.5 M934.5 175.5 V196.5" stroke="#e2e2e2" stroke-width="1" fill="none"/>
<rect x="934.5" y="185.5" width="18.0" height="11.0" fill="#008800"/>
<circle cx="943.5" cy="191.0" r="3.6" fill="none" stroke="#b8e8b8" stroke-width="0.9"/>
<rect x="819.0" y="142.0" width="133.0" height="54.0" fill="none" stroke="#6a6a6a" stroke-width="1.1"/>
<path d="M827.6 144.8 L820.9 151.0 L827.6 151.0" fill="none" stroke="#8a9ab4" stroke-width="1.1"/>
<rect x="827.6" y="146.9" width="3.3" height="6.7" fill="#2fa82f"/>
<text x="832.9" y="151.5" font-family="Liberation Sans, sans-serif" font-size="9.1" font-weight="bold" fill="#111">angle 1</text>
<text x="820.5" y="163.3" font-family="Liberation Sans, sans-serif" font-size="8.1" fill="#1e1e1e" stroke="#1e1e1e" stroke-width="0.18">Ref Feature: cylinder 5</text>
<text x="820.5" y="173.1" font-family="Liberation Sans, sans-serif" font-size="8.1" fill="#1e1e1e" stroke="#1e1e1e" stroke-width="0.18">Feature: cylinder 3</text>
<text x="881.2" y="183.8" font-family="Liberation Sans, sans-serif" font-size="8.1" fill="#1e1e1e" stroke="#1e1e1e" stroke-width="0.18" text-anchor="end">Nom</text>
<text x="908.5" y="183.8" font-family="Liberation Sans, sans-serif" font-size="8.1" fill="#1e1e1e" stroke="#1e1e1e" stroke-width="0.18" text-anchor="end">Meas</text>
<text x="933.7" y="183.8" font-family="Liberation Sans, sans-serif" font-size="8.1" fill="#1e1e1e" stroke="#1e1e1e" stroke-width="0.18" text-anchor="end">Dev</text>
<text x="951.0" y="183.8" font-family="Liberation Sans, sans-serif" font-size="8.1" fill="#1e1e1e" stroke="#1e1e1e" stroke-width="0.18" text-anchor="end">Test</text>
<text x="820.5" y="194.0" font-family="Liberation Sans, sans-serif" font-size="8.1" fill="#1e1e1e" stroke="#1e1e1e" stroke-width="0.18">3D Ang 1</text>
<text x="881.2" y="194.0" font-family="Liberation Sans, sans-serif" font-size="8.1" fill="#1e1e1e" stroke="#1e1e1e" stroke-width="0.18" text-anchor="end">42.044</text>
<text x="908.5" y="194.0" font-family="Liberation Sans, sans-serif" font-size="8.1" fill="#1e1e1e" stroke="#1e1e1e" stroke-width="0.18" text-anchor="end">40.396</text>
<text x="933.7" y="194.0" font-family="Liberation Sans, sans-serif" font-size="8.1" fill="#1e1e1e" stroke="#1e1e1e" stroke-width="0.18" text-anchor="end">-1.648</text>
<rect x="820" y="241" width="131.5" height="54.5" fill="#fff"/>
<path d="M820 275 H951.5 M820 285 H933.5" stroke="#e2e2e2" stroke-width="1" fill="none"/>
<path d="M856.9 275 V295.5 M883.2 275 V295.5 M910.3 275 V295.5 M933.5 275 V295.5" stroke="#e2e2e2" stroke-width="1" fill="none"/>
<rect x="933.5" y="285" width="18.0" height="10.5" fill="#008800"/>
<circle cx="942.5" cy="290.25" r="3.6" fill="none" stroke="#b8e8b8" stroke-width="0.9"/>
<rect x="820.5" y="241.5" width="130.5" height="53.5" fill="none" stroke="#6a6a6a" stroke-width="1.1"/>
<path d="M829.1 244.3 L822.4 250.5 L829.1 250.5" fill="none" stroke="#8a9ab4" stroke-width="1.1"/>
<rect x="829.1" y="246.4" width="3.3" height="6.7" fill="#2fa82f"/>
<text x="834.4" y="251" font-family="Liberation Sans, sans-serif" font-size="9.1" font-weight="bold" fill="#111">angle 5</text>
<text x="822" y="262.8" font-family="Liberation Sans, sans-serif" font-size="8.1" fill="#1e1e1e" stroke="#1e1e1e" stroke-width="0.18">Ref Feature: cylinder 4</text>
<text x="822" y="272.6" font-family="Liberation Sans, sans-serif" font-size="8.1" fill="#1e1e1e" stroke="#1e1e1e" stroke-width="0.18">Feature: cylinder 5</text>
<text x="882.4000000000001" y="283.3" font-family="Liberation Sans, sans-serif" font-size="8.1" fill="#1e1e1e" stroke="#1e1e1e" stroke-width="0.18" text-anchor="end">Nom</text>
<text x="909.5" y="283.3" font-family="Liberation Sans, sans-serif" font-size="8.1" fill="#1e1e1e" stroke="#1e1e1e" stroke-width="0.18" text-anchor="end">Meas</text>
<text x="932.7" y="283.3" font-family="Liberation Sans, sans-serif" font-size="8.1" fill="#1e1e1e" stroke="#1e1e1e" stroke-width="0.18" text-anchor="end">Dev</text>
<text x="950.0" y="283.3" font-family="Liberation Sans, sans-serif" font-size="8.1" fill="#1e1e1e" stroke="#1e1e1e" stroke-width="0.18" text-anchor="end">Test</text>
<text x="822" y="293.5" font-family="Liberation Sans, sans-serif" font-size="8.1" fill="#1e1e1e" stroke="#1e1e1e" stroke-width="0.18">3D Ang 1</text>
<text x="882.4000000000001" y="293.5" font-family="Liberation Sans, sans-serif" font-size="8.1" fill="#1e1e1e" stroke="#1e1e1e" stroke-width="0.18" text-anchor="end">61.030</text>
<text x="909.5" y="293.5" font-family="Liberation Sans, sans-serif" font-size="8.1" fill="#1e1e1e" stroke="#1e1e1e" stroke-width="0.18" text-anchor="end">61.737</text>
<text x="932.7" y="293.5" font-family="Liberation Sans, sans-serif" font-size="8.1" fill="#1e1e1e" stroke="#1e1e1e" stroke-width="0.18" text-anchor="end">0.707</text>
<rect x="744" y="313.5" width="141" height="55.0" fill="#fff"/>
<path d="M744 347.5 H885 M744 357.5 H866.7" stroke="#e2e2e2" stroke-width="1" fill="none"/>
<path d="M781 347.5 V368.5 M812.3 347.5 V368.5 M844.4 347.5 V368.5 M866.7 347.5 V368.5" stroke="#e2e2e2" stroke-width="1" fill="none"/>
<rect x="866.7" y="357.5" width="18.299999999999955" height="11.0" fill="#ff0000"/>
<path d="M871.85 359.0 L879.85 367.0 M879.85 359.0 L871.85 367.0" stroke="#ffd0d0" stroke-width="1"/>
<rect x="744.5" y="314.0" width="140" height="54.0" fill="none" stroke="#6a6a6a" stroke-width="1.1"/>
<path d="M753.1 316.8 L746.4 323.0 L753.1 323.0" fill="none" stroke="#8a9ab4" stroke-width="1.1"/>
<rect x="753.1" y="318.9" width="3.3" height="6.7" fill="#d02010"/>
<text x="758.4" y="323.5" font-family="Liberation Sans, sans-serif" font-size="9.1" font-weight="bold" fill="#111">angle 6</text>
<text x="746" y="335.3" font-family="Liberation Sans, sans-serif" font-size="8.1" fill="#1e1e1e" stroke="#1e1e1e" stroke-width="0.18">Ref Feature: cylinder 4</text>
<text x="746" y="345.1" font-family="Liberation Sans, sans-serif" font-size="8.1" fill="#1e1e1e" stroke="#1e1e1e" stroke-width="0.18">Feature: cylinder 3</text>
<text x="811.5" y="355.8" font-family="Liberation Sans, sans-serif" font-size="8.1" fill="#1e1e1e" stroke="#1e1e1e" stroke-width="0.18" text-anchor="end">Nom</text>
<text x="843.6" y="355.8" font-family="Liberation Sans, sans-serif" font-size="8.1" fill="#1e1e1e" stroke="#1e1e1e" stroke-width="0.18" text-anchor="end">Meas</text>
<text x="865.9000000000001" y="355.8" font-family="Liberation Sans, sans-serif" font-size="8.1" fill="#1e1e1e" stroke="#1e1e1e" stroke-width="0.18" text-anchor="end">Dev</text>
<text x="883.5" y="355.8" font-family="Liberation Sans, sans-serif" font-size="8.1" fill="#1e1e1e" stroke="#1e1e1e" stroke-width="0.18" text-anchor="end">Test</text>
<text x="746" y="366.0" font-family="Liberation Sans, sans-serif" font-size="8.1" fill="#1e1e1e" stroke="#1e1e1e" stroke-width="0.18">3D Ang 2</text>
<text x="811.5" y="366.0" font-family="Liberation Sans, sans-serif" font-size="8.1" fill="#1e1e1e" stroke="#1e1e1e" stroke-width="0.18" text-anchor="end">110.639</text>
<text x="843.6" y="366.0" font-family="Liberation Sans, sans-serif" font-size="8.1" fill="#1e1e1e" stroke="#1e1e1e" stroke-width="0.18" text-anchor="end">118.262</text>
<text x="865.9000000000001" y="366.0" font-family="Liberation Sans, sans-serif" font-size="8.1" fill="#1e1e1e" stroke="#1e1e1e" stroke-width="0.18" text-anchor="end">7.623</text>
<rect x="185.5" y="284" width="134.5" height="55" fill="#fff"/>
<path d="M185.5 318 H320 M185.5 328 H301.8" stroke="#e2e2e2" stroke-width="1" fill="none"/>
<path d="M222.6 318 V339 M249.6 318 V339 M276.6 318 V339 M301.8 318 V339" stroke="#e2e2e2" stroke-width="1" fill="none"/>
<rect x="301.8" y="328" width="18.19999999999999" height="11" fill="#008800"/>
<circle cx="310.9" cy="333.5" r="3.6" fill="none" stroke="#b8e8b8" stroke-width="0.9"/>
<rect x="186.0" y="284.5" width="133.5" height="54" fill="none" stroke="#6a6a6a" stroke-width="1.1"/>
<path d="M194.6 287.3 L187.9 293.5 L194.6 293.5" fill="none" stroke="#8a9ab4" stroke-width="1.1"/>
<rect x="194.6" y="289.4" width="3.3" height="6.7" fill="#2fa82f"/>
<text x="199.9" y="294" font-family="Liberation Sans, sans-serif" font-size="9.1" font-weight="bold" fill="#111">angle 4</text>
<text x="187.5" y="305.8" font-family="Liberation Sans, sans-serif" font-size="8.1" fill="#1e1e1e" stroke="#1e1e1e" stroke-width="0.18">Ref Feature: cylinder 7</text>
<text x="187.5" y="315.6" font-family="Liberation Sans, sans-serif" font-size="8.1" fill="#1e1e1e" stroke="#1e1e1e" stroke-width="0.18">Feature: cylinder 6</text>
<text x="248.79999999999998" y="326.3" font-family="Liberation Sans, sans-serif" font-size="8.1" fill="#1e1e1e" stroke="#1e1e1e" stroke-width="0.18" text-anchor="end">Nom</text>
<text x="275.8" y="326.3" font-family="Liberation Sans, sans-serif" font-size="8.1" fill="#1e1e1e" stroke="#1e1e1e" stroke-width="0.18" text-anchor="end">Meas</text>
<text x="301.0" y="326.3" font-family="Liberation Sans, sans-serif" font-size="8.1" fill="#1e1e1e" stroke="#1e1e1e" stroke-width="0.18" text-anchor="end">Dev</text>
<text x="318.5" y="326.3" font-family="Liberation Sans, sans-serif" font-size="8.1" fill="#1e1e1e" stroke="#1e1e1e" stroke-width="0.18" text-anchor="end">Test</text>
<text x="187.5" y="336.5" font-family="Liberation Sans, sans-serif" font-size="8.1" fill="#1e1e1e" stroke="#1e1e1e" stroke-width="0.18">3D Ang 2</text>
<text x="248.79999999999998" y="336.5" font-family="Liberation Sans, sans-serif" font-size="8.1" fill="#1e1e1e" stroke="#1e1e1e" stroke-width="0.18" text-anchor="end">44.540</text>
<text x="275.8" y="336.5" font-family="Liberation Sans, sans-serif" font-size="8.1" fill="#1e1e1e" stroke="#1e1e1e" stroke-width="0.18" text-anchor="end">42.496</text>
<text x="301.0" y="336.5" font-family="Liberation Sans, sans-serif" font-size="8.1" fill="#1e1e1e" stroke="#1e1e1e" stroke-width="0.18" text-anchor="end">-2.044</text>
<rect x="326.5" y="422.5" width="127.0" height="55.0" fill="#fff"/>
<path d="M326.5 456.5 H453.5 M326.5 466.5 H435.1" stroke="#e2e2e2" stroke-width="1" fill="none"/>
<path d="M355.7 456.5 V477.5 M382.8 456.5 V477.5 M409.9 456.5 V477.5 M435.1 456.5 V477.5" stroke="#e2e2e2" stroke-width="1" fill="none"/>
<rect x="435.1" y="466.5" width="18.399999999999977" height="11.0" fill="#008800"/>
<circle cx="444.3" cy="472.0" r="3.6" fill="none" stroke="#b8e8b8" stroke-width="0.9"/>
<rect x="327.0" y="423.0" width="126.0" height="54.0" fill="none" stroke="#6a6a6a" stroke-width="1.1"/>
<path d="M329.0 428.8 H335.5" stroke="#f07840" stroke-width="1"/>
<rect x="335.5" y="426.8" width="3.3" height="7" fill="#3aa82a"/>
<text x="340.8" y="432.5" font-family="Liberation Sans, sans-serif" font-size="9.1" font-weight="bold" fill="#111">distance 1</text>
<text x="328.5" y="444.3" font-family="Liberation Sans, sans-serif" font-size="8.1" fill="#1e1e1e" stroke="#1e1e1e" stroke-width="0.18">Ref Feature: datum cylinder B</text>
<text x="328.5" y="454.1" font-family="Liberation Sans, sans-serif" font-size="8.1" fill="#1e1e1e" stroke="#1e1e1e" stroke-width="0.18">Feature: cylinder 8</text>
<text x="382.0" y="464.8" font-family="Liberation Sans, sans-serif" font-size="8.1" fill="#1e1e1e" stroke="#1e1e1e" stroke-width="0.18" text-anchor="end">Nom</text>
<text x="409.09999999999997" y="464.8" font-family="Liberation Sans, sans-serif" font-size="8.1" fill="#1e1e1e" stroke="#1e1e1e" stroke-width="0.18" text-anchor="end">Meas</text>
<text x="434.3" y="464.8" font-family="Liberation Sans, sans-serif" font-size="8.1" fill="#1e1e1e" stroke="#1e1e1e" stroke-width="0.18" text-anchor="end">Dev</text>
<text x="452.0" y="464.8" font-family="Liberation Sans, sans-serif" font-size="8.1" fill="#1e1e1e" stroke="#1e1e1e" stroke-width="0.18" text-anchor="end">Test</text>
<text x="328.5" y="475.0" font-family="Liberation Sans, sans-serif" font-size="8.1" fill="#1e1e1e" stroke="#1e1e1e" stroke-width="0.18">3D Dist</text>
<text x="382.0" y="475.0" font-family="Liberation Sans, sans-serif" font-size="8.1" fill="#1e1e1e" stroke="#1e1e1e" stroke-width="0.18" text-anchor="end">32.299</text>
<text x="409.09999999999997" y="475.0" font-family="Liberation Sans, sans-serif" font-size="8.1" fill="#1e1e1e" stroke="#1e1e1e" stroke-width="0.18" text-anchor="end">32.150</text>
<text x="434.3" y="475.0" font-family="Liberation Sans, sans-serif" font-size="8.1" fill="#1e1e1e" stroke="#1e1e1e" stroke-width="0.18" text-anchor="end">-0.149</text>
<rect x="511.5" y="428" width="104.0" height="34" fill="#fff"/>
<path d="M511.5 441.6 H615.5 M511.5 451.6 H597.1" stroke="#e2e2e2" stroke-width="1" fill="none"/>
<path d="M526.4 441.6 V462 M549.5 441.6 V462 M572.4 441.6 V462 M597.1 441.6 V462" stroke="#e2e2e2" stroke-width="1" fill="none"/>
<rect x="597.1" y="451.6" width="18.399999999999977" height="10.399999999999977" fill="#008800"/>
<circle cx="606.3" cy="456.8" r="3.6" fill="none" stroke="#b8e8b8" stroke-width="0.9"/>
<rect x="512.0" y="428.5" width="103.0" height="33" fill="none" stroke="#6a6a6a" stroke-width="1.1"/>
<rect x="513.6" y="430.7" width="8.8" height="7.1" rx="2.6" fill="#8496b0"/>
<path d="M515.0 433 H520.5 M515.0 435.3 H520.5" stroke="#a8b8cc" stroke-width="0.6"/>
<rect x="520.4" y="432.8" width="3.5" height="6.7" rx="1" fill="#3aa82a"/>
<text x="525.6" y="438.2" font-family="Liberation Sans, sans-serif" font-size="9.1" font-weight="bold" fill="#111">cylinder 6</text>
<text x="548.7" y="450.2" font-family="Liberation Sans, sans-serif" font-size="8.1" fill="#1e1e1e" stroke="#1e1e1e" stroke-width="0.18" text-anchor="end">Nom</text>
<text x="571.6" y="450.2" font-family="Liberation Sans, sans-serif" font-size="8.1" fill="#1e1e1e" stroke="#1e1e1e" stroke-width="0.18" text-anchor="end">Meas</text>
<text x="596.3000000000001" y="450.2" font-family="Liberation Sans, sans-serif" font-size="8.1" fill="#1e1e1e" stroke="#1e1e1e" stroke-width="0.18" text-anchor="end">Dev</text>
<text x="614.0" y="450.2" font-family="Liberation Sans, sans-serif" font-size="8.1" fill="#1e1e1e" stroke="#1e1e1e" stroke-width="0.18" text-anchor="end">Test</text>
<text x="513.5" y="459.7" font-family="Liberation Sans, sans-serif" font-size="8.1" fill="#1e1e1e" stroke="#1e1e1e" stroke-width="0.18">Dia</text>
<text x="548.7" y="459.7" font-family="Liberation Sans, sans-serif" font-size="8.1" fill="#1e1e1e" stroke="#1e1e1e" stroke-width="0.18" text-anchor="end">2.380</text>
<text x="571.6" y="459.7" font-family="Liberation Sans, sans-serif" font-size="8.1" fill="#1e1e1e" stroke="#1e1e1e" stroke-width="0.18" text-anchor="end">2.200</text>
<text x="596.3000000000001" y="459.7" font-family="Liberation Sans, sans-serif" font-size="8.1" fill="#1e1e1e" stroke="#1e1e1e" stroke-width="0.18" text-anchor="end">-0.180</text></svg>
</body></html>
